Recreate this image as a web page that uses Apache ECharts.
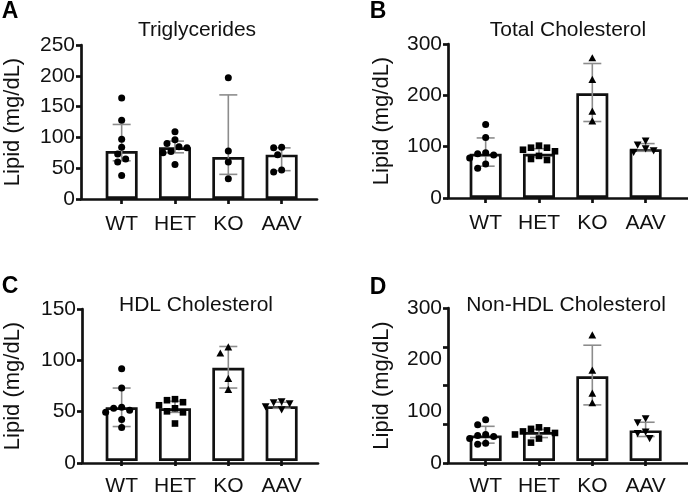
<!DOCTYPE html>
<html>
<head>
<meta charset="utf-8">
<script src="https://cdn.jsdelivr.net/npm/echarts@6/dist/echarts.min.js"></script>
<style>
  html, body { margin: 0; padding: 0; background: #fff; }
  #chart { width: 688px; height: 497px; }
</style>
</head>
<body>
<div id="chart"></div>
<script>
const categories = ['WT', 'HET', 'KO', 'AAV']

// A - Triglycerides (median, interquartile range, individual mice)
const tgMedian = [78, 84, 68, 72]
const tgLow = [62, 75, 40, 46]
const tgHigh = [121, 94, 169, 83]
const tgDots = [
  [164, 128, 97, 84, 73, 65, 60, 38],
  [109, 96, 90, 85, 83, 77, 75, 56],
  [197, 78, 60, 33],
  [84, 83, 72, 47, 44],
]

// B - Total Cholesterol
const tcMedian = [86, 86, 204, 95]
const tcLow = [62, 80, 149, 91]
const tcHigh = [117, 96, 262, 106]
const tcDots = [
  [143, 118, 88, 86, 84, 78, 66, 58],
  [102, 98, 98, 94, 91, 82, 76, 74],
  [272, 230, 168, 149],
  [112, 104, 97, 93, 90],
]

// C - HDL Cholesterol
const hdlMedian = [53, 52, 92, 54]
const hdlLow = [34, 48, 72, 52]
const hdlHigh = [72, 59, 113, 58]
const hdlDots = [
  [91, 72, 53, 52, 50, 48, 41, 33],
  [61, 60, 58, 55, 52, 49, 48, 37],
  [112, 106, 81, 70],
  [59, 58, 57, 54, 51],
]

// D - Non-HDL Cholesterol
const nhMedian = [50, 57, 166, 60]
const nhLow = [35, 46, 110, 48]
const nhHigh = [68, 62, 227, 76]
const nhDots = [
  [81, 71, 52, 50, 48, 44, 35, 33],
  [66, 63, 60, 58, 55, 52, 44, 36],
  [246, 177, 132, 113],
  [84, 76, 58, 55, 45],
]

// y axis ranges
const tgTicks = { max: 250, interval: 50 }
const tcTicks = { max: 300, interval: 100 }
const hdlTicks = { max: 150, interval: 50 }
const nhTicks = { max: 300, interval: 75, labelInterval: 100 }

const FONT = 'Liberation Sans, Arial, sans-serif'
const BLACK = '#111'
const ERR = '#8c8c8c'

const panels = [
  { letter: 'A', title: 'Triglycerides', median: tgMedian, low: tgLow, high: tgHigh, dots: tgDots, ticks: tgTicks,
    shapes: ['circle', 'circle', 'circle', 'circle'],
    axisX: 81, lineEnd: 317, catLeft: 95, top: 45, base: 199, nameGap: 57,
    letterPos: [10, 12], titlePos: [197, 30] },
  { letter: 'B', title: 'Total Cholesterol', median: tcMedian, low: tcLow, high: tcHigh, dots: tcDots, ticks: tcTicks,
    shapes: ['circle', 'square', 'triangle', 'invTriangle'],
    axisX: 448, lineEnd: 688, catLeft: 459, top: 44, base: 198, nameGap: 55,
    letterPos: [378, 12], titlePos: [568, 30] },
  { letter: 'C', title: 'HDL Cholesterol', median: hdlMedian, low: hdlLow, high: hdlHigh, dots: hdlDots, ticks: hdlTicks,
    shapes: ['circle', 'square', 'triangle', 'invTriangle'],
    axisX: 82, lineEnd: 318, catLeft: 95, top: 309, base: 463, nameGap: 58,
    letterPos: [10, 287], titlePos: [196, 305] },
  { letter: 'D', title: 'Non-HDL Cholesterol', median: nhMedian, low: nhLow, high: nhHigh, dots: nhDots, ticks: nhTicks,
    shapes: ['circle', 'square', 'triangle', 'invTriangle'],
    axisX: 448, lineEnd: 688, catLeft: 459, top: 308, base: 463, nameGap: 55,
    letterPos: [378, 288], titlePos: [566, 305] },
]

// simple beeswarm: spread points sideways when they would overlap
function swarm(pts) {
  const minD = 7.5
  const placed = []
  const offsets = [0]
  for (let k = 1; k <= 8; k++) offsets.push(-4 * k, 4 * k)
  pts.forEach(([x, y]) => {
    for (const o of offsets) {
      const ok = placed.every(([px, py]) => Math.hypot(px - (x + o), py - y) >= minD)
      if (ok) { placed.push([x + o, y]); return }
    }
    placed.push([x, y])
  })
  return placed
}

function marker(shape, cx, cy) {
  const style = { fill: '#000' }
  if (shape === 'circle') return { type: 'circle', shape: { cx, cy, r: 3.5 }, style }
  if (shape === 'square') return { type: 'rect', shape: { x: cx - 3.3, y: cy - 3.3, width: 6.6, height: 6.6 }, style }
  if (shape === 'triangle') return { type: 'polygon', shape: { points: [[cx, cy - 4.2], [cx + 3.9, cy + 3], [cx - 3.9, cy + 3]] }, style }
  return { type: 'polygon', shape: { points: [[cx - 3.9, cy - 3], [cx + 3.9, cy - 3], [cx, cy + 4.2]] }, style }
}

const grid = []
const xAxis = []
const yAxis = []
const series = []
const graphic = []

const axisLineStyle = { color: BLACK, width: 2.7 }
const labelStyle = { color: BLACK, fontSize: 21, fontFamily: FONT }

panels.forEach((p) => {
  const height = p.base - p.top
  const wideIdx = grid.length
  grid.push({ left: p.axisX, top: p.top, width: p.lineEnd - p.axisX, height })
  const catIdx = grid.length
  grid.push({ left: p.catLeft, top: p.top, width: 213.3, height })

  // axis lines + y ticks live on the wide grid
  xAxis.push({
    gridIndex: wideIdx, type: 'value', min: 0, max: 1,
    axisLine: { show: true, lineStyle: axisLineStyle },
    axisTick: { show: false }, axisLabel: { show: false }, splitLine: { show: false },
  })
  yAxis.push({
    gridIndex: wideIdx, type: 'value', position: 'left', min: 0, max: p.ticks.max, interval: p.ticks.interval,
    axisLine: { show: true, lineStyle: axisLineStyle },
    axisTick: { show: true, length: 5, lineStyle: axisLineStyle },
    axisLabel: { show: !p.ticks.labelInterval, margin: 6, ...labelStyle },
    splitLine: { show: false },
    name: 'Lipid (mg/dL)', nameLocation: 'middle', nameRotate: 90, nameGap: p.nameGap,
    nameTextStyle: { color: BLACK, fontSize: 22, fontFamily: FONT },
  })
  if (p.ticks.labelInterval) {
    yAxis.push({
      gridIndex: wideIdx, type: 'value', position: 'left', offset: 0,
      min: 0, max: p.ticks.max, interval: p.ticks.labelInterval,
      axisLine: { show: false }, axisTick: { show: false }, splitLine: { show: false },
      axisLabel: { margin: 6, ...labelStyle },
    })
  }

  // categories, bars, error bars and dots live on the narrow grid
  const catX = xAxis.length
  xAxis.push({
    gridIndex: catIdx, type: 'category', data: categories,
    axisLine: { show: false },
    axisTick: { show: true, alignWithLabel: true, interval: 0, length: 5, lineStyle: axisLineStyle },
    axisLabel: { margin: 15, interval: 0, hideOverlap: false, ...labelStyle },
  })
  const catY = yAxis.length
  yAxis.push({ gridIndex: catIdx, type: 'value', min: 0, max: p.ticks.max, show: false })

  series.push({
    type: 'bar', xAxisIndex: catX, yAxisIndex: catY, data: p.median, barWidth: 32, silent: true, z: 2,
    itemStyle: { color: '#fff', borderColor: BLACK, borderWidth: 2.7 },
  })
  series.push({
    type: 'custom', xAxisIndex: catX, yAxisIndex: catY, silent: true, z: 5,
    data: p.low.map((l, i) => [i, l, p.high[i]]),
    encode: { x: 0, y: [1, 2] },
    renderItem: (params, api) => {
      const i = api.value(0)
      const a = api.coord([i, api.value(1)])
      const b = api.coord([i, api.value(2)])
      const style = { stroke: ERR, lineWidth: 1.6 }
      return {
        type: 'group',
        children: [
          { type: 'line', shape: { x1: a[0], y1: a[1], x2: b[0], y2: b[1] }, style },
          { type: 'line', shape: { x1: a[0] - 9, y1: a[1], x2: a[0] + 9, y2: a[1] }, style },
          { type: 'line', shape: { x1: b[0] - 9, y1: b[1], x2: b[0] + 9, y2: b[1] }, style },
        ],
      }
    },
  })
  series.push({
    type: 'custom', xAxisIndex: catX, yAxisIndex: catY, silent: true, z: 6,
    data: p.dots.map((vals, i) => [i, Math.max(...vals), Math.min(...vals)]),
    encode: { x: 0, y: [1, 2] },
    renderItem: (params, api) => {
      const i = params.dataIndex
      const pts = p.dots[i].map((v) => api.coord([i, v]))
      return { type: 'group', children: swarm(pts).map(([x, y]) => marker(p.shapes[i], x, y)) }
    },
  })

  graphic.push({
    type: 'text', x: p.letterPos[0], y: p.letterPos[1],
    style: { text: p.letter, font: `bold 23px ${FONT}`, fill: '#000', textAlign: 'center', textVerticalAlign: 'middle' },
  })
  graphic.push({
    type: 'text', x: p.titlePos[0], y: p.titlePos[1],
    style: { text: p.title, font: `21px ${FONT}`, fill: BLACK, textAlign: 'center', textVerticalAlign: 'middle' },
  })
})

const chart = echarts.init(document.getElementById('chart'))
chart.setOption({ animation: false, backgroundColor: '#fff', grid, xAxis, yAxis, series, graphic })
</script>
</body>
</html>
